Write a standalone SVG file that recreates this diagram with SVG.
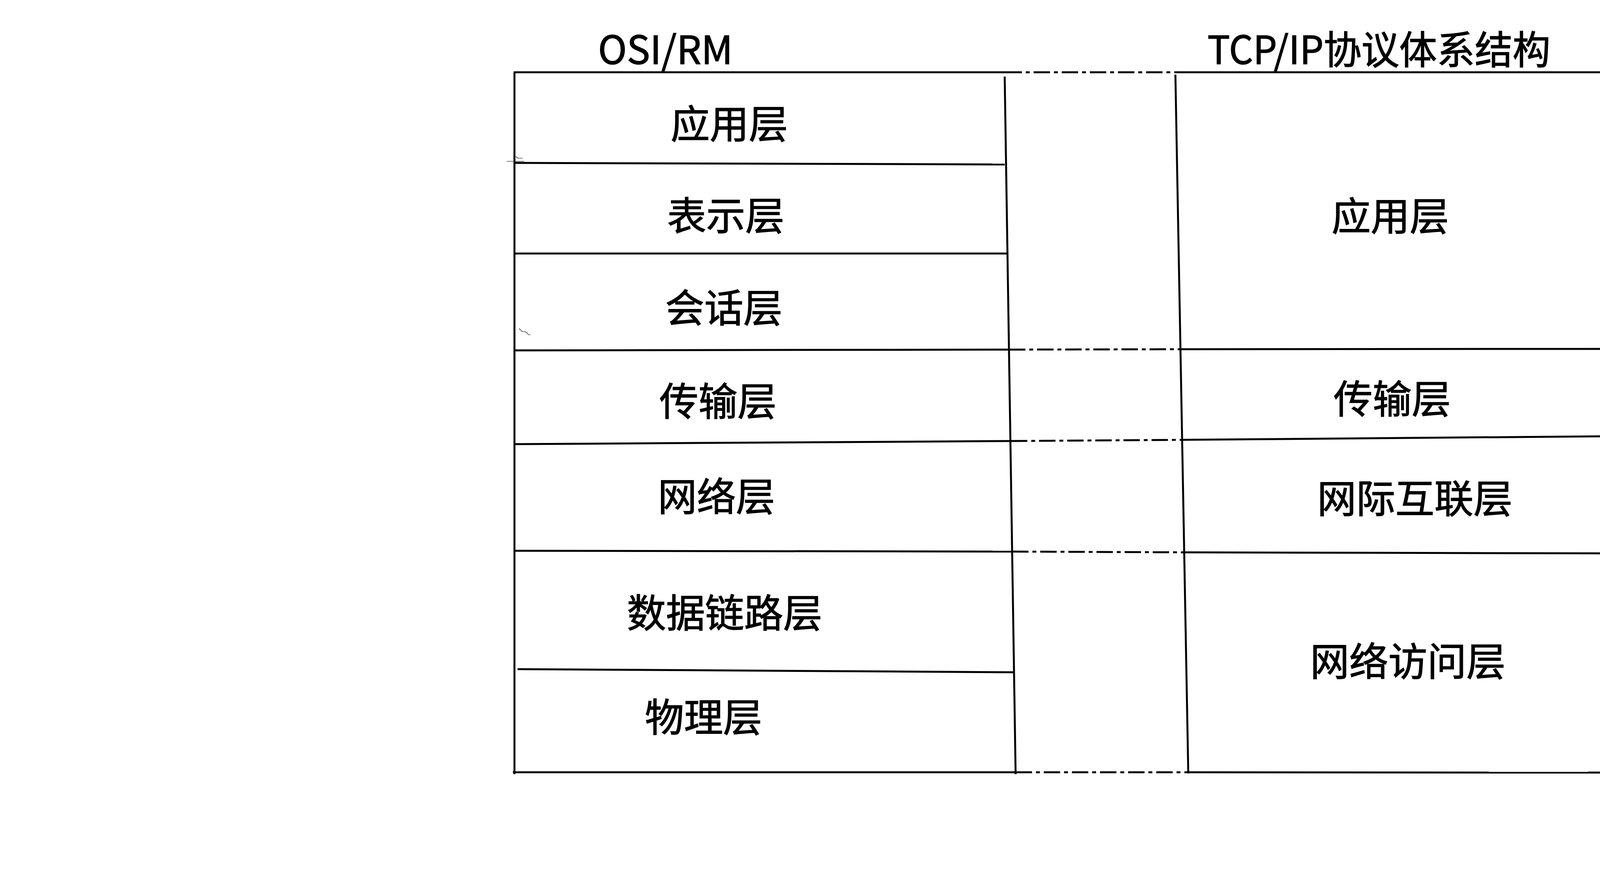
<svg xmlns="http://www.w3.org/2000/svg" width="5000" height="2240" viewBox="0 0 5000 2240">
<style>
.ln{stroke:#000;stroke-width:5;fill:none;stroke-linecap:butt}
.vl{stroke:#000;stroke-width:5;fill:none}
.ds{stroke:#000;stroke-width:5;fill:none;stroke-dasharray:42 10 10 10}
.mk{stroke:#000;stroke-width:1.2;fill:none}
.lb{font-family:"Noto Sans CJK SC","Microsoft YaHei",sans-serif;font-size:100px;fill:#000;stroke:#000;stroke-width:1.6;text-anchor:middle;dominant-baseline:central}
.tt{font-family:"Noto Sans CJK SC","Microsoft YaHei",sans-serif;font-size:100px;fill:#000;stroke:#000;stroke-width:1.6}
</style>
<rect width="5000" height="2240" fill="#fff"/>
<g id="titles">
<text class="tt" x="1531" y="164" textLength="345" lengthAdjust="spacingAndGlyphs">OSI/RM</text>
<text class="tt" x="3091" y="164" textLength="878" lengthAdjust="spacingAndGlyphs">TCP/IP协议体系结构</text>
</g>
<g id="connectors">
<line class="ln" x1="1315" y1="185" x2="2574" y2="185"/>
<line class="ds" x1="2574" y1="185" x2="3010" y2="185"/>
<line class="ln" x1="3010" y1="185" x2="4226" y2="185"/>
<line class="vl" x1="1317" y1="185" x2="1317" y2="1982"/>
<line class="vl" x1="2572" y1="196" x2="2600" y2="1982"/>
<line class="vl" x1="3009" y1="191" x2="3042" y2="1980"/>
<line class="vl" x1="4222" y1="185" x2="4224" y2="1978"/>
<line class="ln" x1="1317" y1="417" x2="2572" y2="421"/>
<line class="ln" x1="1317" y1="649" x2="2580" y2="649"/>
<line class="ln" x1="1317" y1="897" x2="2583" y2="895"/>
<line class="ds" x1="2583" y1="895" x2="3021" y2="894"/>
<line class="ln" x1="3021" y1="894" x2="4219" y2="893"/>
<line class="ln" x1="1317" y1="1137" x2="2588" y2="1129"/>
<line class="ds" x1="2588" y1="1129" x2="3026" y2="1126"/>
<line class="ln" x1="3026" y1="1126" x2="4210" y2="1116"/>
<line class="ln" x1="1317" y1="1410" x2="2591" y2="1412"/>
<line class="ds" x1="2591" y1="1412" x2="3031" y2="1414"/>
<line class="ln" x1="3031" y1="1414" x2="4224" y2="1417"/>
<line class="ln" x1="1325" y1="1713" x2="2596" y2="1721"/>
<line class="ln" x1="1313" y1="1977" x2="2600" y2="1977"/>
<line class="ds" x1="2600" y1="1977" x2="3042" y2="1977"/>
<line class="ln" x1="3042" y1="1977" x2="4243" y2="1978"/>
<line class="mk" x1="1297" y1="413" x2="1342" y2="413"/>
<polyline class="mk" points="1320,401 1324,403 1326,405 1338,405"/>
<polyline class="mk" points="1329,841 1337,849 1343,849 1349,852 1353,857 1358,857"/>
</g>
<g id="osi-app"><text class="lb" x="1867" y="310">应用层</text></g>
<g id="osi-pres"><text class="lb" x="1858" y="545">表示层</text></g>
<g id="osi-sess"><text class="lb" x="1853" y="781">会话层</text></g>
<g id="osi-trans"><text class="lb" x="1838" y="1020">传输层</text></g>
<g id="osi-net"><text class="lb" x="1834" y="1264">网络层</text></g>
<g id="osi-link"><text class="lb" x="1855" y="1562">数据链路层</text></g>
<g id="osi-phys"><text class="lb" x="1801" y="1829">物理层</text></g>
<g id="tcp-app"><text class="lb" x="3559" y="546">应用层</text></g>
<g id="tcp-trans"><text class="lb" x="3564" y="1014">传输层</text></g>
<g id="tcp-inet"><text class="lb" x="3622" y="1269">网际互联层</text></g>
<g id="tcp-access"><text class="lb" x="3604" y="1686">网络访问层</text></g>
</svg>
